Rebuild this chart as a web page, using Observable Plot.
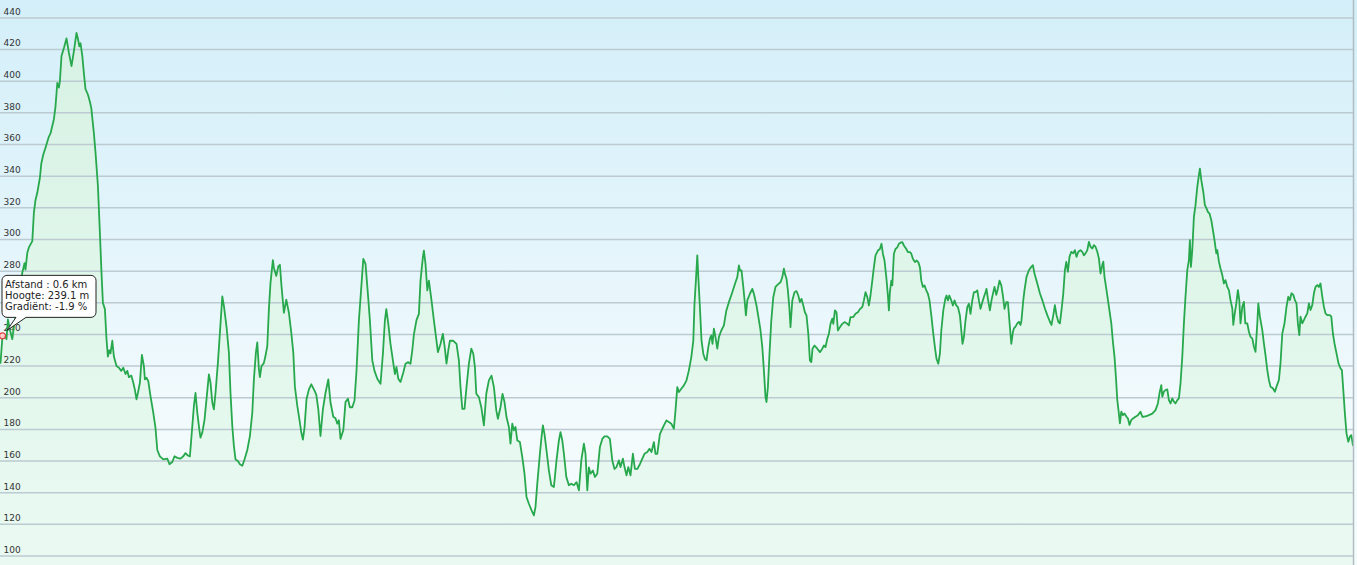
<!DOCTYPE html>
<html>
<head>
<meta charset="utf-8">
<script src="https://cdn.jsdelivr.net/npm/d3@7"></script>
<script src="https://cdn.jsdelivr.net/npm/@observablehq/plot@0.6"></script>
<style>
  html, body { margin: 0; padding: 0; background: #ffffff; }
  #chart { width: 1357px; height: 565px; }
</style>
</head>
<body>
<div id="chart"></div>
<script>
// Distance along the route (km)
const distKm = [
0.50,0.60,0.70,0.80,0.87,0.97,1.09,1.17,1.30,1.42,1.59,1.70,1.75,1.84,1.92,2.09,2.17,2.25,2.34,2.47,2.54,2.64,2.75,2.92,3.00,3.17,3.25,3.34,3.42,3.47,3.55,3.67,3.80,3.92,4.05,4.17,4.30,4.37,4.44,4.50,4.59,4.67,4.75,4.87,4.97,5.04,5.17,5.25,5.37,5.47,5.55,5.62,5.72,5.80,5.87,5.94,6.00,6.09,6.17,6.30,6.42,6.54,6.64,6.75,6.84,6.92,7.04,7.14,7.22,7.30,7.37,7.47,7.57,7.67,7.72,7.80,7.89,8.00,8.14,8.25,8.34,8.47,8.64,8.84,8.95,9.09,9.20,9.34,9.50,9.64,9.75,9.87,9.97,
10.09,10.17,10.25,10.34,10.44,10.50,10.59,10.70,10.80,10.92,11.00,11.09,11.17,11.25,11.37,11.47,11.59,11.67,11.80,11.92,12.00,12.09,12.17,12.25,12.37,12.47,12.59,12.70,12.84,12.97,13.09,13.17,13.27,13.34,13.42,13.47,13.55,13.67,13.75,13.84,13.92,14.00,14.12,14.17,14.29,14.39,14.47,14.55,14.67,14.79,14.92,15.04,15.14,15.22,15.34,15.45,15.54,15.62,15.70,15.80,15.92,16.04,16.17,16.29,16.39,16.50,16.62,16.75,16.89,17.00,
17.14,17.25,17.34,17.42,17.50,17.64,17.75,17.87,17.97,18.09,18.20,18.30,18.42,18.54,18.64,18.75,18.87,18.97,19.09,19.20,19.34,19.50,19.62,19.72,19.79,19.89,20.00,20.12,20.22,20.30,20.39,20.50,20.64,20.75,20.87,21.00,21.09,21.17,21.30,21.42,21.50,21.62,21.67,21.75,21.84,21.92,22.05,22.17,22.30,22.37,22.50,22.62,22.72,22.80,22.89,22.97,23.14,23.30,23.42,23.50,23.59,23.70,23.80,23.92,24.04,24.14,24.22,24.29,24.42,24.54,24.67,24.79,24.92,25.05,25.17,25.29,25.37,25.50,25.60,25.70,25.80,25.92,26.00,26.09,26.17,26.25,26.34,26.47,26.59,26.70,26.80,26.92,27.05,27.17,27.25,27.34,27.47,27.55,27.62,27.70,27.80,27.92,28.04,28.17,28.30,28.42,28.50,28.59,28.67,28.79,28.92,29.04,29.17,29.30,29.42,29.54,29.67,29.75,29.84,29.92,30.00,30.12,30.22,30.34,30.47,30.59,30.70,30.84,30.97,31.09,31.20,31.30,31.42,31.50,31.62,31.70,31.80,31.89,32.00,32.12,32.22,32.34,32.47,32.59,32.70,32.84,32.95,33.05,33.17,33.25,33.34,33.47,33.59,33.67,33.80,33.92,34.04,34.17,34.25,34.34,34.42,
34.54,34.67,34.80,34.92,35.04,35.14,35.20,35.27,35.34,35.40,35.47,35.55,35.64,35.72,35.80,35.89,35.97,36.04,36.10,36.17,36.25,36.34,36.42,36.54,36.67,36.79,36.92,37.09,37.25,37.34,37.42,37.47,37.55,37.64,37.72,37.77,37.84,37.97,38.09,38.17,38.30,38.42,38.50,38.59,38.67,38.75,38.80,38.87,38.95,39.04,39.14,39.25,39.37,39.50,39.59,39.67,39.72,39.80,39.87,39.94,40.00,40.09,40.20,40.30,40.39,40.47,40.55,40.64,40.72,40.80,40.89,40.97,41.04,41.10,41.20,41.34,41.47,41.59,41.67,41.75,41.84,41.92,42.00,42.09,42.14,42.22,42.30,42.37,42.47,42.59,42.70,42.84,42.92,43.00,43.14,43.25,43.37,43.47,43.59,43.67,43.75,43.84,43.92,44.00,44.09,44.17,44.25,44.37,44.47,44.55,44.62,44.70,44.79,44.87,44.92,44.97,45.04,45.09,45.17,45.25,45.34,45.42,45.50,45.59,45.67,45.79,45.87,45.97,46.04,46.12,46.22,46.30,46.39,46.47,46.54,46.62,46.70,46.79,46.87,46.95,47.05,47.14,47.22,47.30,47.39,47.47,47.54,47.64,47.74,47.80,47.87,47.94,48.04,48.12,48.20,48.29,48.37,48.47,48.54,48.60,48.67,48.75,48.84,48.92,49.00,49.09,49.17,49.25,49.34,49.42,49.50,49.59,49.67,49.75,49.80,49.87,49.97,50.05,50.14,50.20,50.29,50.37,50.45,50.54,50.62,50.70,50.79,50.87,50.95,51.04,51.12,
51.17,51.25,51.34,51.42,51.50,51.55,51.64,51.70,51.80,51.92,52.04,52.12,52.20,52.34,52.47,52.59,52.72,52.84,52.97,53.05,53.14,53.22,53.30,53.39,53.47,53.55,53.64,53.72,53.79,53.87,53.95,54.04,54.14,54.22,54.30,54.39,54.50,54.59,54.67,54.75,54.84,54.92,55.00,55.09,55.17,55.25,55.34,55.42,55.50,55.59,55.64,55.70,55.80,55.92,56.04,56.12,56.20,56.27,56.34,56.40,56.47,56.54,56.62,56.70,56.80,56.87,56.95,57.04,57.14,57.25,57.37,57.50,57.59,57.67,57.80,57.92,58.09,58.25,58.37,58.45,58.54,58.59,58.67,58.75,58.84,58.92,59.00,59.09,59.17,59.25,59.34,59.42,59.50,59.59,59.67,59.75,59.84,59.92,59.97,60.02,60.09,60.17,60.25,60.34,60.42,60.47,60.54,60.64,60.72,60.80,60.87,60.95,61.04,61.12,61.20,61.29,61.34,61.42,61.50,61.59,61.67,61.75,61.84,61.92,62.00,62.09,62.14,62.20,62.29,62.37,62.44,62.50,62.59,62.67,62.74,62.84,62.92,63.00,63.09,63.17,63.25,63.34,63.39,63.47,63.59,63.67,63.75,63.84,63.92,64.00,64.12,64.22,64.30,64.42,64.50,64.59,64.70,64.80,64.89,64.97,65.05,65.14,65.22,65.30,65.37,65.44,65.50,65.59,65.67,65.75,65.84,65.92,66.00,66.09,66.17,66.25,66.34,66.42,66.50,66.59,66.67,66.75,66.84,66.97,67.04,67.12,67.20,67.30,67.40,67.50,67.57,67.64,67.72,67.80,67.89,67.97,68.04,68.12
];
// Elevation (m)
const elevM = [
222,239.1,240,237,249.5,243,237,245,254,266,279,285,281,291.6,295,299,317,325,329.5,339,348,353.7,358,365,367,376,384,399,396,400,416,421,427,418,409.5,419,430.5,427,422,424,416,405,395,391.6,387,383,367,355,334,304,279,260,256,237,226,230,228,236,226,220,219,217,219,215,217,213,214,209.5,205,199,203,209.5,227,220,211.6,212.6,210.5,201,190.5,181,167,163,161,161.5,158,159.4,163,162,161.5,163,165,163.5,163,
182,194.8,203,190.5,180,174.8,178,186,199,214.8,209.5,197,192.7,203,222,241,264,258,245,228.5,203,182,169.5,161,160,158,157,161,167,175.8,190.5,211.6,228.5,235,218,213,220,222,226.5,232.7,256,272.6,287,282,277,283,284,270.5,253.7,262,253.7,241,228.5,207,194.8,186,178,173.6,181,199,205.3,208.5,205.3,202,192.7,175.8,192.7,203,211.6,197,
188,187,183.6,185.8,174,179.4,197.3,199.4,194,194,198.3,217,248.8,270,287.8,284.6,265.7,248.8,223.6,217,212,208.8,227.8,248.8,256,246.7,234,223.6,215,219.4,212,210,216,221.5,222.5,221.5,230,240,249,253,274,288.8,293,284.6,267.8,274,261.5,248.8,236,228.8,234,240.4,231,221.5,230,236,236,234,223.6,206.7,193,193,206.7,221.5,231,227.8,219.4,202.5,200.4,194,182.5,202.5,211,214,206.7,192,186.7,194,202.5,197.3,187.8,181.5,171,183.6,179.4,181.5,173,172,162.5,152,137.3,133,129,125.7,131,145.7,164.6,175,182.5,177,166.7,154,144.7,143.6,160.4,173,178.3,173,164.6,150,144.7,145.7,144.7,146.7,141.5,160.4,171,164.6,141.5,156,152,154,150,152,168.8,174,175.6,175.6,174,160.4,155,156.2,160.4,156.2,161.5,156.2,151,156.2,151,164.6,155,155,158,161.5,164.6,165.7,167.8,165.7,172,164.6,164.6,177,180.4,182.5,185.7,184.6,183.6,180.4,192,206.7,203.6,
205.7,207.8,211,217.3,225.7,236,259.4,274,290,274,257.3,236.2,227.8,224.6,223.6,232,237.3,239.4,234,243.6,238.3,231,238.3,242.5,245.7,255,260.4,266.7,273,276.2,283.6,280.4,280.4,270,259.4,252,261.5,265.7,268.8,265.7,258.3,249,242.5,232,217.3,200.4,197.3,206.7,227.8,248.8,263.6,270,271.6,273,276.2,281.5,278.3,275.2,267.8,257.3,244.6,261.5,266.7,267.4,264.6,260.4,262.5,258.3,254,252,240.4,223.6,222.5,231,233,231,228.8,231,233,232,237.3,240.4,246.7,250,246.7,255.2,254,242.5,244.6,246.7,247.8,246.7,245.7,251,251,253,254,256,257.3,261.5,266.7,263.6,258.3,264.6,274,282.5,290,293,294,297.3,291,286.7,276.2,264.6,255.2,266.7,274,271,291,294,295,297.3,298,298.3,296.2,294,292,292,291,287.8,285.7,286.7,285.7,282.5,274,270,271,267.8,265.7,261.5,251,240.4,232,224.6,221.5,227.8,242.5,255.2,262.5,264.6,261.5,264.6,261.5,258.3,261.5,258.3,257.3,252,242.5,234,238.3,248.8,257.3,259.4,253,261.5,266.7,266.7,267.8,261.5,256.2,260.4,263.6,266.7,268.8,262.5,255.2,261.5,266.7,270,265,269,274,271,264.6,256.2,260.4,260.4,247.8,234,241.5,
243.8,244.9,247,248,246,249,261.7,268,276.4,280.6,282.7,283.8,278.5,272.2,266,261.7,256.4,252.2,248,246,252.2,258.5,252.2,248,247,255.4,266,280.6,285.9,279.6,289,292.2,291.2,293.3,289,292.2,293.3,292.2,290,291.2,293.3,298.5,295.4,294.3,296.4,295.4,292.2,288,278.5,283.8,286,276.4,268,257.5,247,235.4,226,213.3,198.5,192.2,183.8,191.2,189,190,188,187,182.8,186,187,188,189,191.2,188,188,188.4,189,190,192.2,196.4,202.8,208,200.6,203.8,204.9,205.3,198.5,196.4,199.6,197.5,196.4,198.5,199.6,209,226,247,264,280.6,287,299.6,282.7,293.3,314.3,321.7,333.3,340.6,344.8,337.5,330,321.7,319.6,317.5,316.4,312.2,306,299.6,291.2,293.3,286,281.7,277.5,272.2,274.3,270,268,261.7,256.4,246,252.2,259.6,268,261.7,247,257.5,260.6,247,247,241.7,238.5,237.5,232.2,229,247,259.6,251.2,242.7,234.3,227,217.5,211.2,207,206,203.8,207,211.2,221.7,240.6,247,257.5,263.8,261.7,266,265,261.7,259.6,247,239.6,251.2,247,249,251.2,253.3,259.6,255.4,258.5,266,270,271.2,270,272.2,263.8,257.5,253.3,252.2,252.2,251.2,240.6,234.3,228,221.7,218.5,217.5,204.9,190,177.5,172.2,175.4,176.4,170
];
// Y tick labels (m)
const yTicks = [100,120,140,160,180,200,220,240,260,280,300,320,340,360,380,400,420,440];
// Hovered point shown in the tooltip
const hoverKm = [0.6];
const hoverElev = [239.1];
const hoverGrad = [-1.9];

const profile = distKm.map((d, i) => ({km: d, elev: elevM[i]}));
const hover = hoverKm.map((d, i) => ({km: d, elev: hoverElev[i], grad: hoverGrad[i]}));

const defs = () => {
  const ns = "http://www.w3.org/2000/svg";
  const el = document.createElementNS(ns, "defs");
  el.innerHTML = `
    <linearGradient id="areaGrad" gradientUnits="userSpaceOnUse" x1="0" y1="0" x2="0" y2="565">
      <stop offset="0" stop-color="#d6f1e4"/>
      <stop offset="0.5" stop-color="#e0f6ea"/>
      <stop offset="1" stop-color="#eafaf2"/>
    </linearGradient>`;
  return el;
};

// Rounded tooltip box, positioned from the hovered point through the plot's scales
const tooltip = (index, scales) => {
  const g = d3.create("svg:g")
    .attr("font-family", "'DejaVu Sans', Verdana, sans-serif")
    .attr("font-size", 10)
    .attr("text-anchor", "start");
  for (const d of hover) {
    const px = scales.x(d.km), py = scales.y(d.elev);
    const L = px, R = px + 94, T = py - 60, B = py - 18, r = 5;
    const p1 = L + 24, p2 = L + 14; // pointer base on the bottom edge
    const path = [
      `M${L + r},${T}`, `H${R - r}`, `A${r},${r} 0 0 1 ${R},${T + r}`,
      `V${B - r}`, `A${r},${r} 0 0 1 ${R - r},${B}`,
      `H${p1}`, `L${px + 5},${py - 5}`, `L${p2},${B}`,
      `H${L + r}`, `A${r},${r} 0 0 1 ${L},${B - r}`,
      `V${T + r}`, `A${r},${r} 0 0 1 ${L + r},${T}`, "Z"
    ].join(" ");
    g.append("path").attr("d", path).attr("fill", "white").attr("stroke", "#222").attr("stroke-width", 1);
    const lines = [`Afstand : ${d.km} km`, `Hoogte: ${d.elev} m`, `Gradiënt: ${d.grad} %`];
    lines.forEach((t, i) => {
      g.append("text").attr("x", L + 3).attr("y", T + 13 + i * 11).attr("fill", "#222").attr("text-anchor", "start").text(t);
    });
  }
  return g.node();
};

const chart = Plot.plot({
  width: 1357,
  height: 565,
  marginLeft: 0,
  marginRight: 4,
  marginTop: 0,
  marginBottom: 0,
  style: {
    background: "linear-gradient(to bottom, #d4eff9 0%, #e2f4fb 40%, #f2fafd 72%, #f4fcfb 100%)",
    fontFamily: "'DejaVu Sans', Verdana, sans-serif",
    fontSize: "9px",
    color: "#333"
  },
  x: {domain: [0.5, 68.15], axis: null},
  y: {domain: [94, 451], axis: null},
  marks: [
    defs,
    Plot.areaY(profile, {x: "km", y: "elev", fill: "url(#areaGrad)", clip: true}),
    Plot.ruleY(yTicks, {stroke: "#bccad1", strokeWidth: 1.5}),
    Plot.text(yTicks, {y: d => d, text: d => String(d), frameAnchor: "left", textAnchor: "start", dx: 3, dy: -6, fill: "#333", fontSize: 9}),
    Plot.lineY(profile, {x: "km", y: "elev", stroke: "#27a84c", strokeWidth: 1.8}),
    Plot.frame({anchor: "right", stroke: "#b0bcc1", strokeWidth: 1.5}),
    Plot.dot(hover, {x: "km", y: "elev", r: 3, stroke: "#e03c3c", fill: "#ffd0d0", strokeWidth: 1.2}),
    tooltip
  ]
});
document.getElementById("chart").appendChild(chart);
</script>
</body>
</html>
